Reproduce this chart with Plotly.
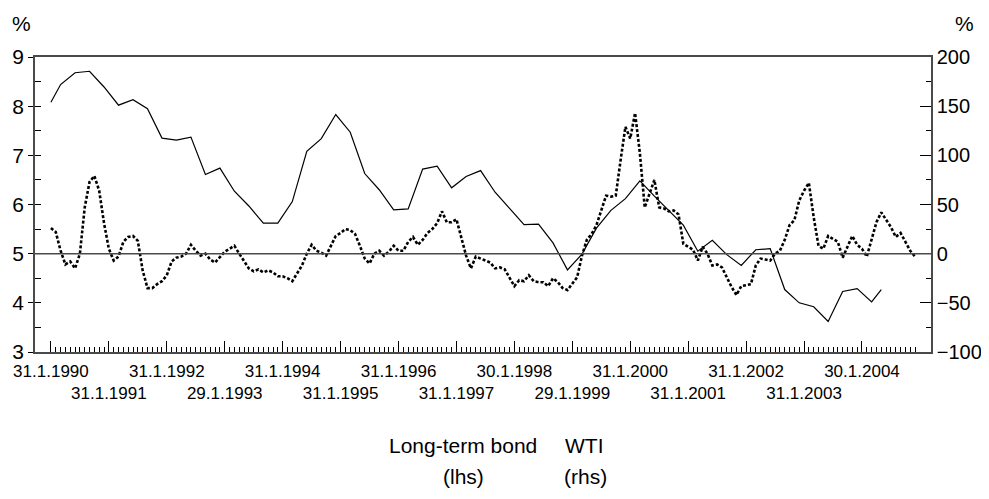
import plotly.graph_objects as go

# Month index 0 = Jan 1990 ... 179 = Dec 2004
bond_month = [0, 2, 5, 8, 11, 14, 17, 20, 23, 26, 29, 32, 35, 38, 41, 44, 47, 50, 53, 56,
              59, 62, 65, 68, 71, 74, 77, 80, 83, 86, 89, 92, 95, 98, 101, 104, 107, 110,
              113, 116, 119, 122, 125, 128, 131, 134, 137, 140, 143, 146, 149, 152, 155,
              158, 161, 164, 167, 170, 172]
bond_yield = [8.08, 8.44, 8.68, 8.71, 8.39, 8.02, 8.13, 7.95, 7.35, 7.31, 7.37, 6.61, 6.74,
              6.27, 5.97, 5.62, 5.62, 6.06, 7.08, 7.34, 7.83, 7.47, 6.63, 6.30, 5.89, 5.91,
              6.72, 6.78, 6.34, 6.57, 6.69, 6.25, 5.92, 5.59, 5.60, 5.22, 4.67, 4.99, 5.52,
              5.88, 6.12, 6.48, 6.17, 5.88, 5.58, 5.05, 5.27, 4.98, 4.76, 5.08, 5.10, 4.27,
              4.00, 3.92, 3.62, 4.23, 4.29, 4.02, 4.27]

wti_change = [26, 22, 3, -11, -8, -15, 0, 47, 73, 79, 64, 31,
              5, -7, -3, 12, 17, 18, 13, -17, -35, -35, -31, -28,
              -22, -8, -4, -3, 0, 9, 3, -2, 0, -6, -9, -3,
              2, 5, 8, 0, -7, -15, -18, -16, -19, -17, -19, -23,
              -23, -25, -28, -20, -12, 0, 9, 3, 1, -2, 8, 18,
              21, 25, 24, 20, 8, -5, -10, 0, 3, -2, 2, 8,
              3, 3, 12, 17, 9, 14, 21, 25, 31, 43, 32, 32,
              35, 17, -2, -15, -3, -5, -7, -9, -15, -14, -16, -25,
              -33, -27, -28, -22, -28, -29, -29, -33, -25, -29, -35, -37,
              -30, -24, -2, 14, 20, 29, 44, 59, 58, 59, 95, 129,
              117, 143, 102, 47, 61, 75, 47, 46, 43, 44, 40, 10,
              7, 4, -7, 7, 0, -12, -11, -14, -24, -34, -42, -33,
              -32, -31, -12, -5, -6, -7, 0, 3, 14, 29, 34, 54,
              64, 72, 37, 8, 5, 18, 15, 12, -4, 7, 18, 9,
              5, -3, 15, 32, 42, 34, 27, 17, 21, 12, 3, -3]
wti_month = list(range(len(wti_change)))

tick_months = [0, 12, 24, 36, 48, 60, 72, 84, 96, 108, 120, 132, 144, 156, 168]
tick_labels = ["31.1.1990", "31.1.1991", "31.1.1992", "29.1.1993", "31.1.1994",
               "31.1.1995", "31.1.1996", "31.1.1997", "30.1.1998", "29.1.1999",
               "31.1.2000", "31.1.2001", "31.1.2002", "31.1.2003", "30.1.2004"]
tick_text = [lab if i % 2 == 0 else "<br>" + lab for i, lab in enumerate(tick_labels)]

FONT = "Liberation Sans, Arial, sans-serif"
AX = "#4a4a4a"

fig = go.Figure()
fig.add_trace(go.Scatter(x=bond_month, y=bond_yield, mode="lines", yaxis="y",
                         line=dict(color="black", width=1.2), name="Long-term bond (lhs)"))
fig.add_trace(go.Scatter(x=wti_month, y=wti_change, mode="lines", yaxis="y2",
                         line=dict(color="black", width=2.6, dash="3px,2px"), name="WTI (rhs)"))

# page body has an 8px margin, so the figure is 8px smaller and offset
fig.update_layout(
    width=981, height=491,
    margin=dict(l=27, r=58, t=49, b=147, autoexpand=False),
    paper_bgcolor="white", plot_bgcolor="white",
    showlegend=False,
    font=dict(family=FONT, color="black"),
    xaxis=dict(range=[-3.3, 182.3], tickmode="array", tickvals=tick_months, ticktext=tick_text,
               tickangle=0, automargin=False, ticklabelstandoff=3,
               ticks="inside", ticklen=11, tickcolor="black", tickwidth=1,
               showline=True, linecolor=AX, linewidth=1.5, mirror=True,
               showgrid=False, zeroline=False, tickfont=dict(size=17, family=FONT),
               minor=dict(tickmode="array", tickvals=wti_month, ticks="inside", ticklen=5,
                          tickcolor="black", tickwidth=1, showgrid=False)),
    yaxis=dict(range=[3, 9], dtick=1, ticks="outside", ticklen=5, tickcolor="black",
               automargin=False,
               showline=True, linecolor=AX, linewidth=1.5, showgrid=False, zeroline=False,
               tickfont=dict(size=21, family=FONT)),
    yaxis3=dict(range=[3, 9], dtick=0.5, ticks="inside", ticklen=6, tickcolor="black",
                automargin=False,
                showticklabels=False, showline=False, showgrid=False, zeroline=False,
                overlaying="y", side="left"),
    yaxis2=dict(range=[-100, 200], dtick=50, ticks="inside", ticklen=11, tickcolor="black",
                automargin=False,
                showline=True, linecolor=AX, linewidth=1.5, showgrid=False, zeroline=False,
                overlaying="y", side="right", tickfont=dict(size=20, family=FONT),
                minor=dict(dtick=25, ticks="inside", ticklen=5, tickcolor="black")),
)
# dummy trace to activate yaxis3 tick marks
fig.add_trace(go.Scatter(x=[None], y=[None], yaxis="y3", showlegend=False, hoverinfo="skip"))

fig.add_shape(type="line", xref="paper", x0=0, x1=1, yref="y", y0=5, y1=5,
              line=dict(color=AX, width=1.5))

def px_x(x):
    return (x - 35) / 896

def px_y(y):
    return (352 - y) / 295

anns = [
    ("%", 21, 24, 21), ("%", 964, 24, 21),
    ("Long-term bond", 463, 446, 21), ("(lhs)", 463, 476, 21),
    ("WTI", 584, 446, 21), ("(rhs)", 585, 476, 21),
]
for text, x, y, s in anns:
    fig.add_annotation(text=text, xref="paper", yref="paper", x=px_x(x), y=px_y(y),
                       xanchor="center", yanchor="middle", showarrow=False,
                       font=dict(size=s, family=FONT, color="black"))

fig.write_html("out.html")
